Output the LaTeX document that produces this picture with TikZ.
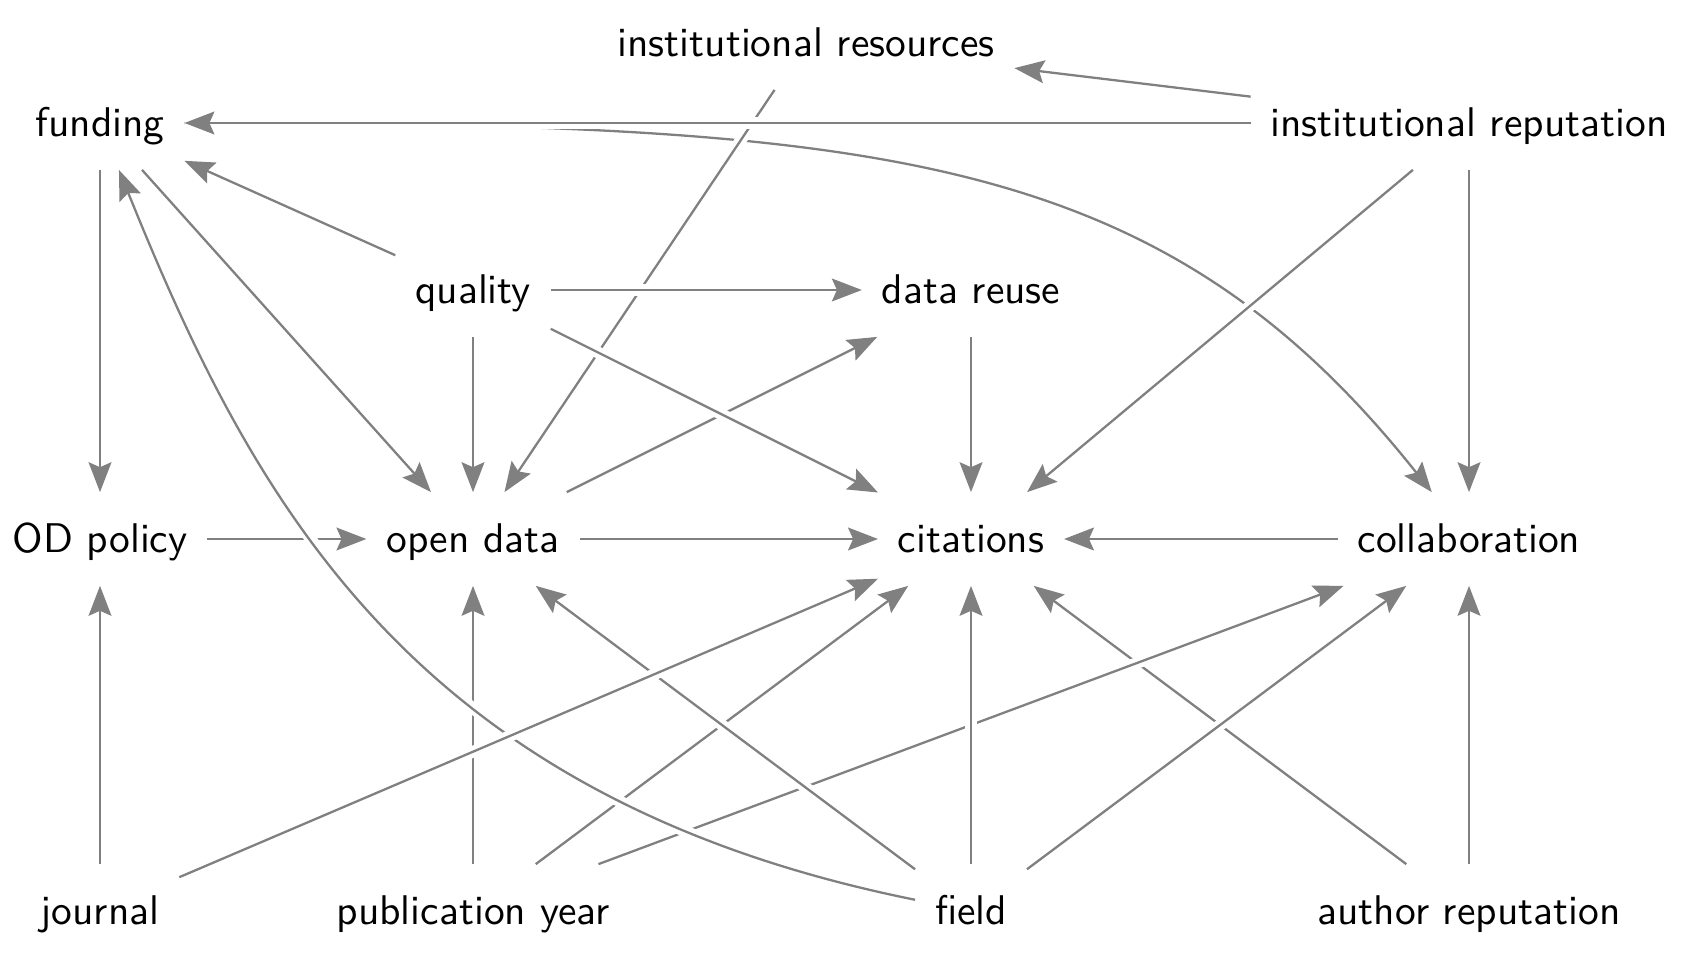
\documentclass[tikz,border=0pt]{standalone}
\usetikzlibrary{arrows.meta}
\begin{document}
\begin{tikzpicture}[x=0.241pt, y=-0.241pt,
  var/.style={rectangle, inner xsep=4.6pt, inner ysep=0pt, minimum height=22.2pt,
    text height=7.8pt, text depth=1.2pt, font=\sffamily},
  edge/.style={draw=gray, line width=0.55pt,
    -{Stealth[length=7.2pt,width=5.5pt,inset=1.2pt]},
    preaction={draw=white, line width=2.8pt, -}},
]
\useasboundingbox (0,0) rectangle (1681,954);
\node[var] (instres)  at (806,43)  {institutional resources};
\node[var] (funding)  at (100,123) {funding};
\node[var] (instrep)  at (1469,123) {institutional reputation};
\node[var] (quality)  at (473,290) {quality};
\node[var] (reuse)    at (971,290) {data reuse};
\node[var] (odpolicy) at (100,539) {OD policy};
\node[var] (opendata) at (473,539) {open data};
\node[var] (citations) at (971,539) {citations};
\node[var] (collab)   at (1469,539) {collaboration};
\node[var] (journal)  at (100,911) {journal};
\node[var] (pubyear)  at (473,911) {publication year};
\node[var] (field)    at (971,911) {field};
\node[var] (authrep)  at (1469,911) {author reputation};

\draw[edge] (funding.east) .. controls (880,123) and (1160,150) .. (collab);
\draw[edge] (instres) -- (opendata);
\draw[edge] (instrep) -- (funding);
\draw[edge] (instrep) -- (instres);
\draw[edge] (quality) -- (reuse);
\draw[edge] (opendata) -- (reuse);
\draw[edge] (quality) -- (citations);
\draw[edge] (quality) -- (funding);
\draw[edge] (quality) -- (opendata);
\draw[edge] (funding) -- (odpolicy);
\draw[edge] (funding) -- (opendata);
\draw[edge] (instrep) -- (citations);
\draw[edge] (instrep) -- (collab);
\draw[edge] (reuse) -- (citations);
\draw[edge] (odpolicy) -- (opendata);
\draw[edge] (opendata) -- (citations);
\draw[edge] (collab) -- (citations);
\draw[edge] (pubyear) -- (opendata);
\draw[edge] (authrep) -- (citations);
\draw[edge] (authrep) -- (collab);
\draw[edge] (pubyear) -- (citations);
\draw[edge] (pubyear) -- (collab);
\draw[edge] (field) -- (opendata);
\draw[edge] (field) .. controls (410,798) and (252,499) .. (funding);
\draw[edge] (field) -- (citations);
\draw[edge] (field) -- (collab);
\draw[edge] (journal) -- (odpolicy);
\draw[edge] (journal) -- (citations);
\end{tikzpicture}
\end{document}
